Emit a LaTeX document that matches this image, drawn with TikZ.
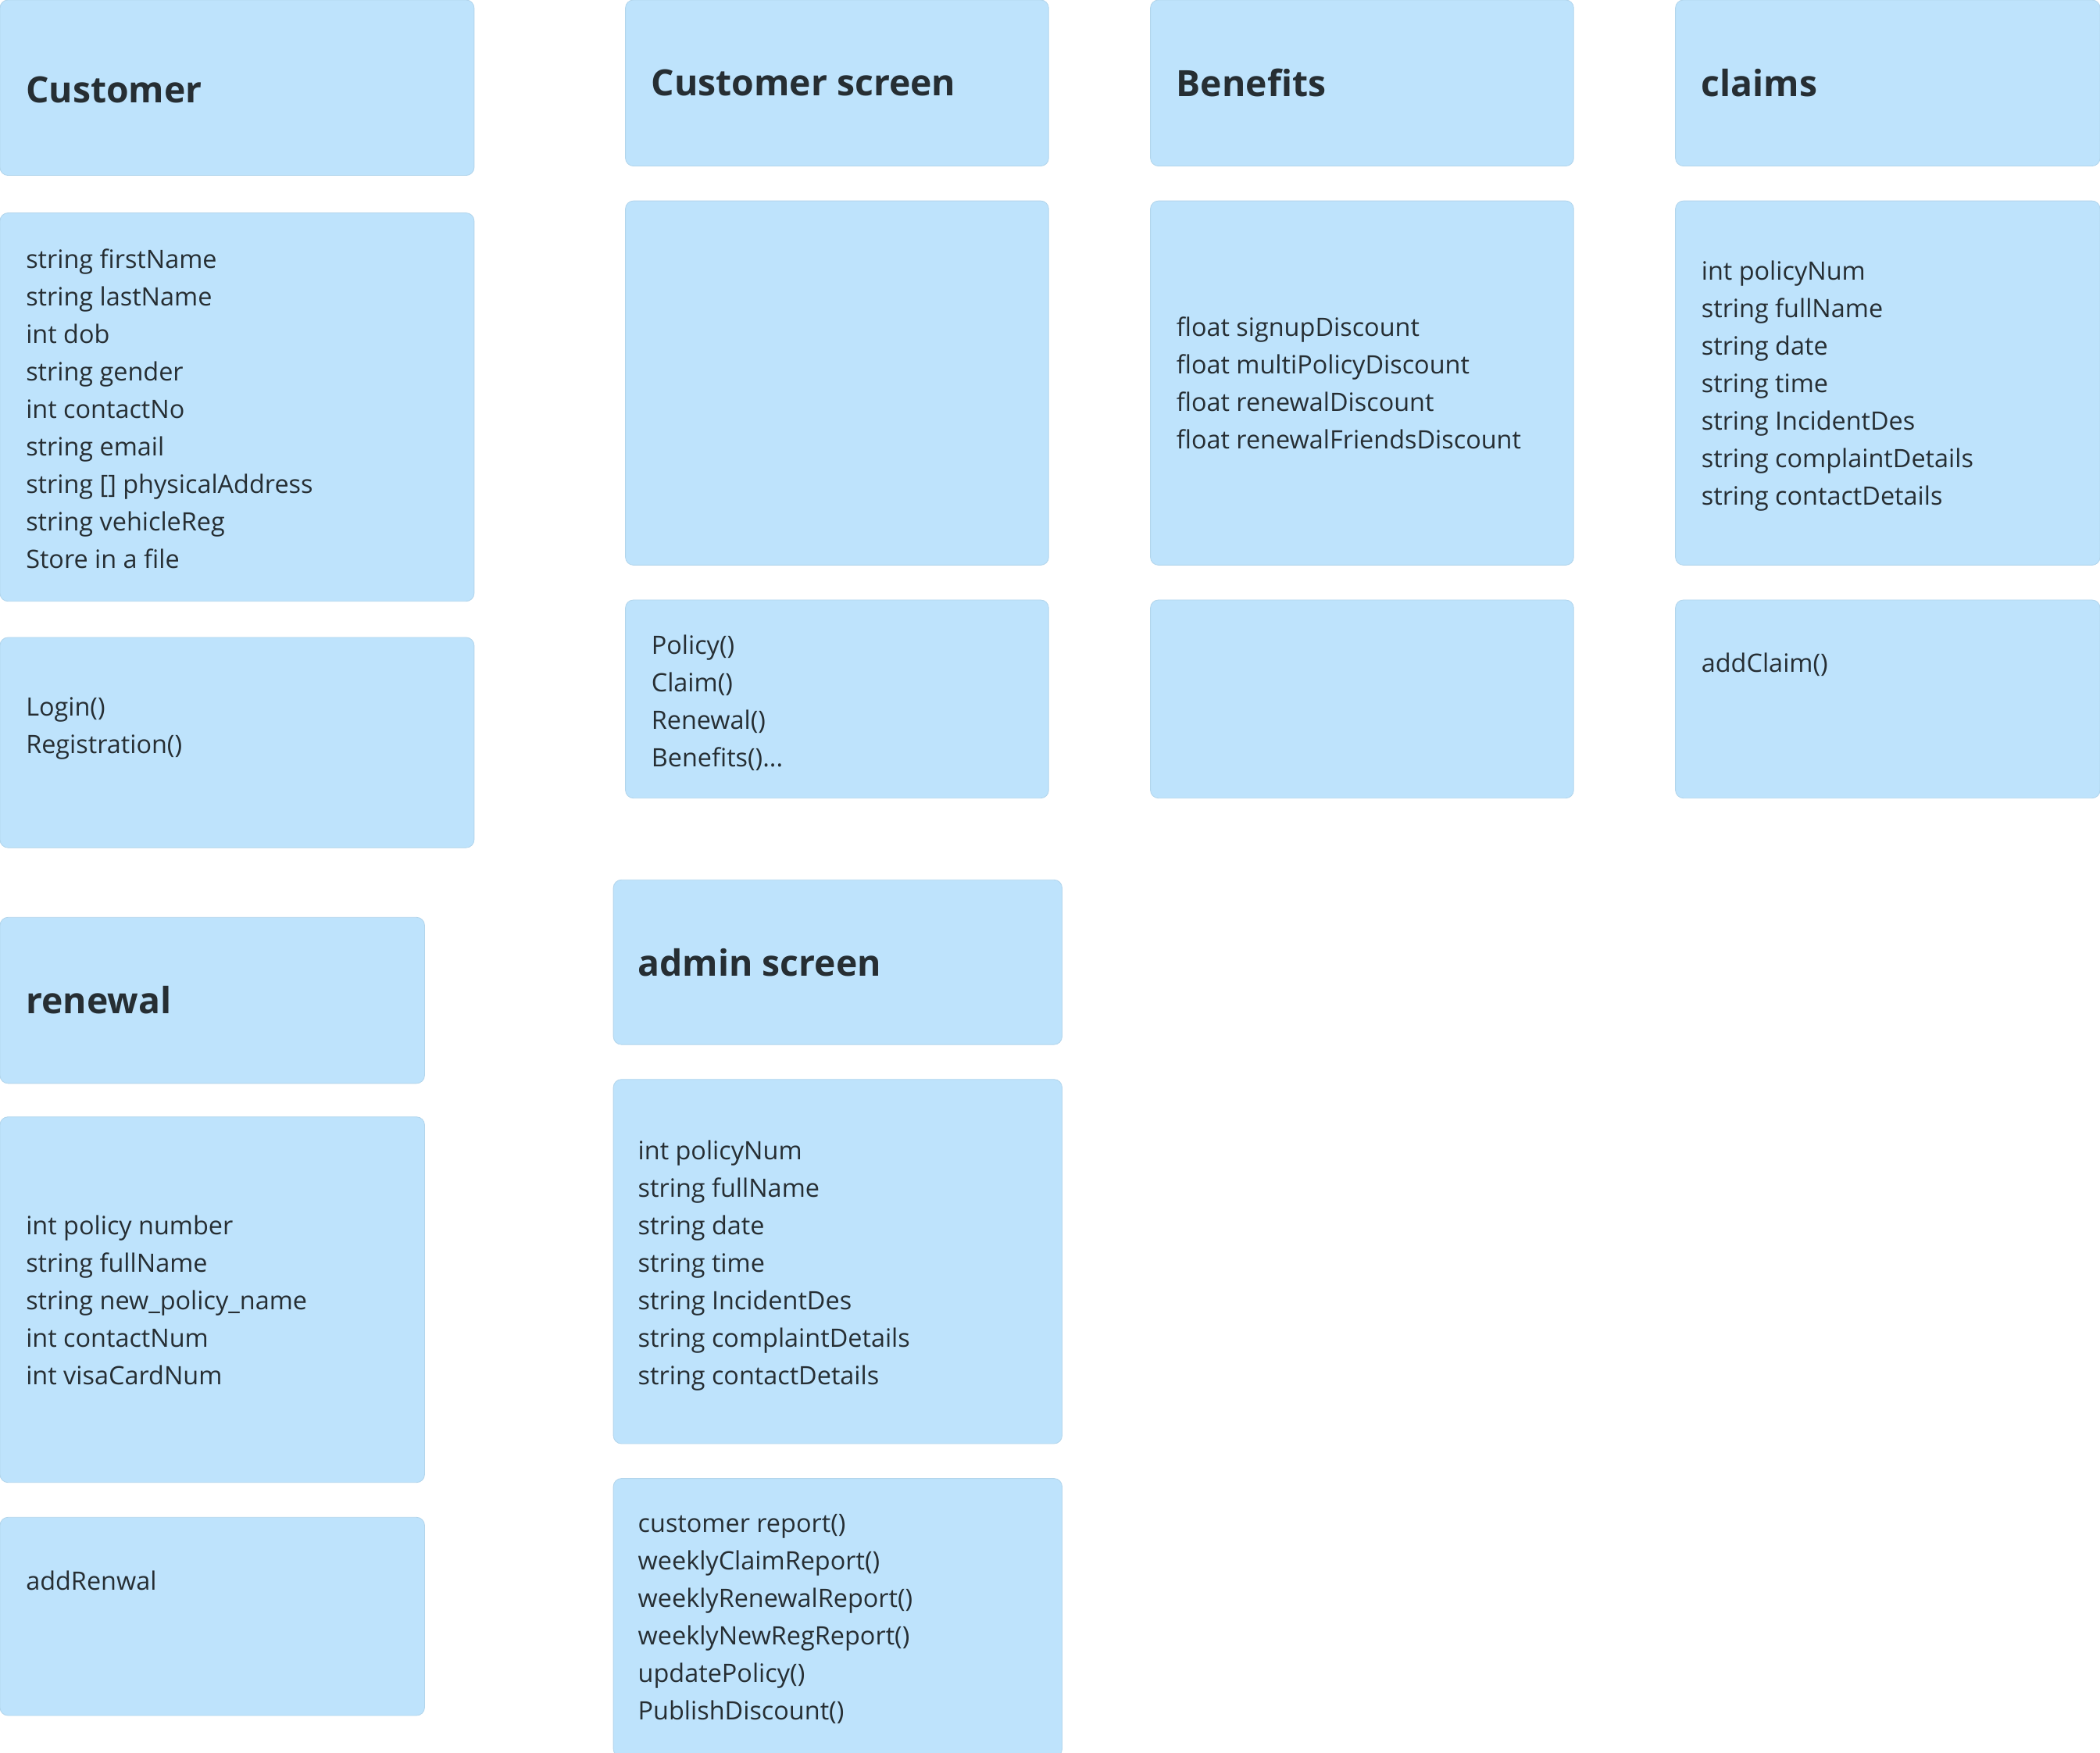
\documentclass[tikz,border=0pt]{standalone}
\usepackage{fontspec}
\setmainfont{Open Sans}
\definecolor{cardfill}{HTML}{BEE3FC}
\definecolor{cardline}{HTML}{B2D5EC}
\definecolor{ink}{HTML}{262E33}
\newcommand\cardbox[5]{\node[card,anchor=north west,minimum width={(#4-#2)*0.5pt},minimum height={(#5-#3)*0.5pt}] (#1) at (#2,#3) {};}
\begin{document}
\begin{tikzpicture}[x=0.5pt,y=-0.5pt,
  card/.style={fill=cardfill,draw=cardline,line width=0.25pt,rounded corners=3pt,inner sep=0pt,outer sep=0pt},
  body/.style={anchor=west,align=left,inner sep=0pt,text=ink,font=\fontsize{9.45}{14}\selectfont},
  head/.style={anchor=west,inner sep=0pt,text=ink,font=\bfseries\fontsize{13.5}{16}\selectfont}]
\useasboundingbox (0,0) rectangle (1568,1309);
\clip (0,0) rectangle (1568,1309);
% Customer
\cardbox{custH}{0}{0}{354}{131}
\cardbox{custA}{0}{159}{354}{449}
\cardbox{custM}{0}{476}{354}{633}
% Customer screen
\cardbox{csH}{467}{0}{783}{124}
\cardbox{csA}{467}{150}{783}{422}
\cardbox{csM}{467}{448}{783}{596}
% Benefits
\cardbox{benH}{859}{0}{1175}{124}
\cardbox{benA}{859}{150}{1175}{422}
\cardbox{benM}{859}{448}{1175}{596}
% claims
\cardbox{clH}{1251}{0}{1568}{124}
\cardbox{clA}{1251}{150}{1568}{422}
\cardbox{clM}{1251}{448}{1568}{596}
% renewal
\cardbox{renH}{0}{685}{317}{809}
\cardbox{renA}{0}{834}{317}{1107}
\cardbox{renM}{0}{1133}{317}{1281}
% admin screen
\cardbox{admH}{458}{657}{793}{780}
\cardbox{admA}{458}{806}{793}{1078}
\cardbox{admM}{458}{1104}{793}{1312}

\node[head] (tCustH) at (19,67) {Customer};
\node[body] (tCustA) at (19,305) {string firstName\\string lastName\\int dob\\string gender\\int contactNo\\string email\\string [] physicalAddress\\string vehicleReg\\Store in a file};
\node[body] (tCustM) at (19,544) {Login()\\Registration()};

\node[head] (tCsH) at (486,62) {Customer screen};
\node[body] (tCsM) at (486,525) {Policy()\\Claim()\\Renewal()\\Benefits()...};

\node[head] (tBenH) at (878,62) {Benefits};
\node[body] (tBenA) at (878,286) {float signupDiscount\\float multiPolicyDiscount\\float renewalDiscount\\float renewalFriendsDiscount};

\node[head] (tClH) at (1270,62) {claims};
\node[body] (tClA) at (1270,288) {int policyNum\\string fullName\\string date\\string time\\string IncidentDes\\string complaintDetails\\string contactDetails};
\node[body] (tClM) at (1270,496) {addClaim()};

\node[head] (tRenH) at (19,747) {renewal};
\node[body] (tRenA) at (19,971) {int policy number\\string fullName\\string new\_policy\_name\\int contactNum\\int visaCardNum};
\node[body] (tRenM) at (19,1180) {addRenwal};

\node[head] (tAdmH) at (476,719) {admin screen};
\node[body] (tAdmA) at (476,945) {int policyNum\\string fullName\\string date\\string time\\string IncidentDes\\string complaintDetails\\string contactDetails};
\node[body] (tAdmM) at (476,1209) {customer report()\\weeklyClaimReport()\\weeklyRenewalReport()\\weeklyNewRegReport()\\updatePolicy()\\PublishDiscount()};
\end{tikzpicture}
\end{document}
